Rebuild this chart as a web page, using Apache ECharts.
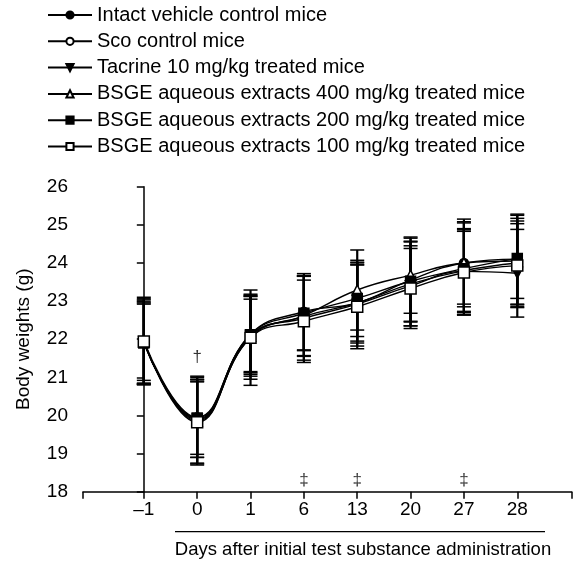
<!DOCTYPE html>
<html>
<head>
<meta charset="utf-8">
<script src="https://cdn.jsdelivr.net/npm/echarts@6/dist/echarts.min.js"></script>
<style>
  html, body { margin: 0; padding: 0; background: #fff; }
  #main { width: 584px; height: 561px; }
</style>
</head>
<body>
<div id="main"></div>
<script>
// x categories (days), drawn at index positions 0..7
const DAYS = ['\u20131', '0', '1', '6', '13', '20', '27', '28'];

const SERIES_NAMES = [
    'Intact vehicle control mice',
    'Sco control mice',
    'Tacrine 10 mg/kg treated mice',
    'BSGE aqueous extracts 400 mg/kg treated mice',
    'BSGE aqueous extracts 200 mg/kg treated mice',
    'BSGE aqueous extracts 100 mg/kg treated mice'
];

// means (g)
const intact  = [21.95, 19.95, 22.13, 22.72, 22.95, 23.55, 24.00, 24.10];
const sco     = [21.90, 19.88, 22.05, 22.60, 22.95, 23.45, 23.80, 24.00];
const tacrine = [21.92, 19.90, 22.10, 22.55, 22.92, 23.40, 23.78, 23.73];
const bsge400 = [21.93, 19.85, 22.08, 22.62, 23.29, 23.68, 24.00, 24.05];
const bsge200 = [21.90, 19.93, 22.12, 22.68, 23.07, 23.52, 23.85, 24.12];
const bsge100 = [21.94, 19.82, 22.04, 22.47, 22.85, 23.33, 23.75, 23.93];

// standard deviations
const sdIntact  = [1.15, 1.05, 1.05, 1.00, 1.05, 1.10, 1.15, 1.18];
const sdSco     = [1.05, 1.15, 1.10, 1.05, 1.00, 1.10, 1.10, 1.10];
const sdTacrine = [1.00, 1.00, 0.95, 1.10, 1.10, 1.05, 1.05, 1.15];
const sdBsge400 = [1.10, 1.10, 1.05, 1.05, 1.05, 1.00, 1.08, 1.20];
const sdBsge200 = [1.08, 0.95, 1.00, 0.98, 1.00, 1.05, 1.20, 1.05];
const sdBsge100 = [1.12, 1.12, 1.25, 1.08, 1.10, 1.05, 1.12, 1.10];

// significance marks
const daggerX = [1];
const daggerY = 21.52;
const ddaggerX = [3, 4, 6];
const ddaggerY = 18.3;

const Y_TICKS = [18, 19, 20, 21, 22, 23, 24, 25, 26];

const FONT = 'Liberation Sans';

const means = [intact, sco, tacrine, bsge400, bsge200, bsge100];
const sds = [sdIntact, sdSco, sdTacrine, sdBsge400, sdBsge200, sdBsge100];

const symbols = [
    {symbol: 'circle', size: 9, fill: '#000', rotate: 0},
    {symbol: 'circle', size: 9, fill: '#fff', rotate: 0},
    {symbol: 'triangle', size: 10, fill: '#000', rotate: 180},
    {symbol: 'triangle', size: 10, fill: '#fff', rotate: 0},
    {symbol: 'rect', size: 10, fill: '#000', rotate: 0},
    {symbol: 'rect', size: 11, fill: '#fff', rotate: 0}
];

function renderErrorBar(params, api) {
    var x = api.value(0);
    var top = api.coord([x, api.value(2)]);
    var bot = api.coord([x, api.value(1)]);
    var hw = 7;
    return {
        type: 'group',
        children: [
            {type: 'line', shape: {x1: top[0], y1: top[1], x2: bot[0], y2: bot[1]},
             style: {stroke: '#000', lineWidth: 2.2}},
            {type: 'line', shape: {x1: top[0] - hw, y1: top[1], x2: top[0] + hw, y2: top[1]},
             style: {stroke: '#000', lineWidth: 1.5}},
            {type: 'line', shape: {x1: bot[0] - hw, y1: bot[1], x2: bot[0] + hw, y2: bot[1]},
             style: {stroke: '#000', lineWidth: 1.5}}
        ]
    };
}

let errData = [];
let series = [];
for (let s = 0; s < means.length; s++) {
    for (let i = 0; i < DAYS.length; i++) {
        errData.push([i, means[s][i] - sds[s][i], means[s][i] + sds[s][i]]);
    }
}

series.push({
    type: 'custom',
    name: 'err',
    renderItem: renderErrorBar,
    data: errData,
    z: 1,
    silent: true
});

for (let s = 0; s < means.length; s++) {
    series.push({
        name: SERIES_NAMES[s],
        type: 'line',
        smooth: 0.45,
        data: means[s].map((v, i) => [i, v]),
        symbol: symbols[s].symbol,
        symbolSize: symbols[s].size,
        symbolRotate: symbols[s].rotate,
        showAllSymbol: true,
        lineStyle: {color: '#000', width: 1.4},
        itemStyle: {color: symbols[s].fill, borderColor: '#000', borderWidth: 1.5, opacity: 1},
        z: 3 + s
    });
}

series.push({
    type: 'scatter',
    name: 'dagger',
    symbolSize: 1,
    itemStyle: {color: 'rgba(0,0,0,0)'},
    data: daggerX.map(x => [x, daggerY]),
    label: {show: true, position: 'inside', formatter: '\u2020', color: '#000', fontSize: 17, fontFamily: FONT},
    silent: true
});
series.push({
    type: 'scatter',
    name: 'ddagger',
    symbolSize: 1,
    itemStyle: {color: 'rgba(0,0,0,0)'},
    data: ddaggerX.map(x => [x, ddaggerY]),
    label: {show: true, position: 'inside', formatter: '\u2021', color: '#000', fontSize: 17, fontFamily: FONT},
    silent: true
});

const option = {
    animation: false,
    backgroundColor: '#fff',
    legend: {
        data: SERIES_NAMES,
        orient: 'vertical',
        left: 42,
        top: 0,
        itemWidth: 44,
        itemHeight: 9,
        itemGap: 6.3,
        selectedMode: false,
        textStyle: {fontSize: 20, fontFamily: FONT, color: '#000', lineHeight: 20}
    },
    grid: {left: 83, right: 12.3, top: 186.7, bottom: 69.3},
    xAxis: {
        type: 'value',
        min: -1.14,
        max: 8.02,
        splitLine: {show: false},
        axisLine: {lineStyle: {color: '#000', width: 1.5}},
        axisTick: {
            show: true,
            length: 7,
            customValues: [-1.14, 0, 1, 2, 3, 4, 5, 6, 7, 8.02],
            lineStyle: {color: '#000', width: 1.5}
        },
        axisLabel: {
            customValues: [0, 1, 2, 3, 4, 5, 6, 7],
            formatter: function (v) { return DAYS[Math.round(v)]; },
            fontSize: 19,
            fontFamily: FONT,
            color: '#000',
            margin: 9
        }
    },
    yAxis: {
        type: 'value',
        min: Y_TICKS[0],
        max: Y_TICKS[Y_TICKS.length - 1],
        interval: 1,
        name: 'Body weights (g)',
        nameLocation: 'middle',
        nameRotate: 90,
        nameGap: 50,
        nameTextStyle: {fontSize: 19, fontFamily: FONT, color: '#000'},
        splitLine: {show: false},
        axisLine: {show: true, lineStyle: {color: '#000', width: 1.5}},
        axisTick: {show: true, length: 7, lineStyle: {color: '#000', width: 1.5}},
        axisLabel: {fontSize: 19, fontFamily: FONT, color: '#000', margin: 15}
    },
    graphic: [
        {
            type: 'line',
            shape: {x1: 175, y1: 531.7, x2: 545, y2: 531.7},
            style: {stroke: '#000', lineWidth: 1.2}
        },
        {
            type: 'text',
            x: 363,
            y: 550,
            style: {
                text: 'Days after initial test substance administration',
                fontSize: 18.5,
                fontFamily: FONT,
                fill: '#000',
                align: 'center',
                verticalAlign: 'middle'
            }
        }
    ],
    series: series
};

const chart = echarts.init(document.getElementById('main'));
chart.setOption(option);
</script>
</body>
</html>
